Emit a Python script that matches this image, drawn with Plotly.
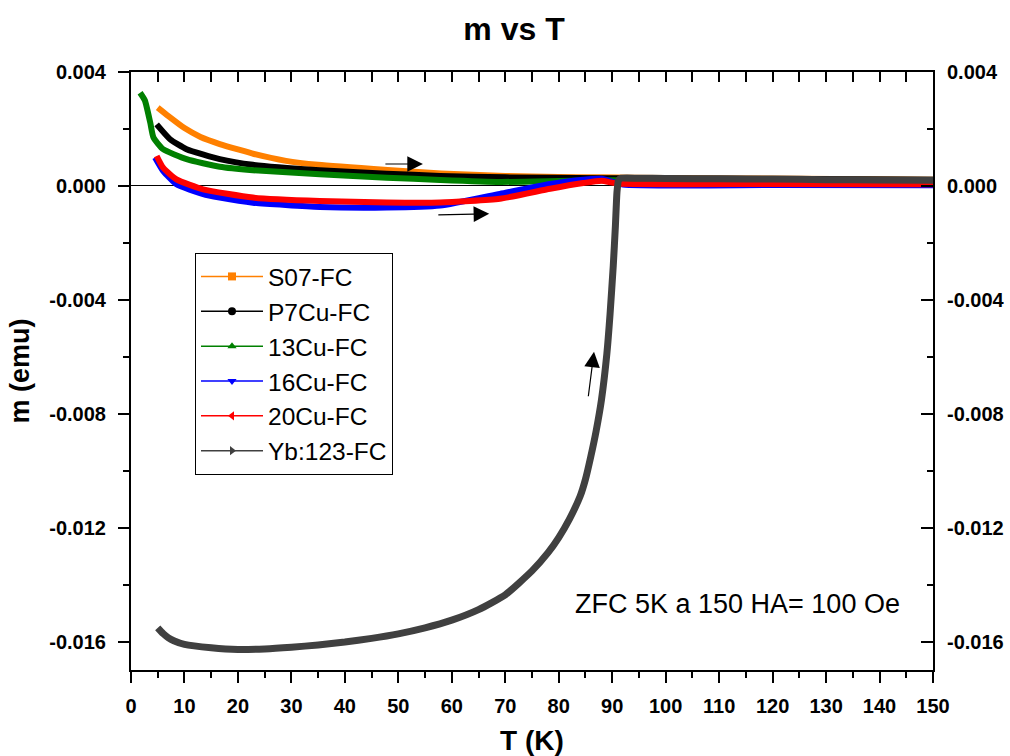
import plotly.graph_objects as go

# ---------------- data ----------------
T_s07 = [5, 7, 10, 13, 16.6, 20, 23, 29, 35, 48, 58, 70, 80, 88, 100, 125, 150]
m_s07 = [0.00275, 0.00245, 0.00203, 0.00172, 0.00147, 0.00128, 0.00112, 0.00088,
         0.00074, 0.00056, 0.00044, 0.00035, 0.00031, 0.00030, 0.00028, 0.00025, 0.00022]

T_p7 = [4.8, 7.3, 10.4, 16.6, 22.8, 35.3, 47.8, 57.8, 70, 88, 100, 125, 150]
m_p7 = [0.00216, 0.00164, 0.00129, 0.00094, 0.00074, 0.00055, 0.00043, 0.00035,
        0.00030, 0.00027, 0.00026, 0.00024, 0.00022]

T_13 = [1.7, 2.6, 3.6, 4.2, 6.0, 10.4, 16.6, 22.8, 35.3, 47.8, 57.8, 69, 80, 90, 120, 150]
m_13 = [0.00327, 0.00300, 0.00222, 0.00170, 0.00129, 0.00094, 0.00067, 0.00055,
        0.00041, 0.00029, 0.00021, 0.00014, 0.00017, 0.00020, 0.00019, 0.00018]

T_16 = [4.5, 6.0, 8.5, 13.5, 16.6, 22.8, 35.3, 47.8, 57.8, 69, 78.4, 84.6, 88, 92, 120, 150]
m_16 = [0.00100, 0.00053, 0.00006, -0.00029, -0.00041, -0.00059, -0.00074, -0.00076,
        -0.00069, -0.00028, 0.00007, 0.00022, 0.00025, 0.00005, 0.00003, 0.00002]

T_20 = [4.8, 6.0, 8.5, 13.5, 22.8, 35.3, 47.8, 57.8, 69, 78.4, 84.6, 88, 91, 120, 150]
m_20 = [0.00105, 0.00064, 0.00023, -0.00012, -0.00041, -0.00053, -0.00058, -0.00058,
        -0.00045, -0.00010, 0.00010, 0.00018, 0.00008, 0.00007, 0.00006]

T_yb = [5, 6, 7, 8, 10, 15, 20, 25, 30, 35, 40, 45, 50, 55, 60, 65, 70, 75,
        78, 80, 82, 84, 85, 86, 87, 88, 89, 89.6, 90.2, 90.6, 90.9, 91.2, 91.6,
        95, 100, 110, 120, 130, 140, 150]
m_yb = [-0.01552, -0.01572, -0.01587, -0.01597, -0.0161, -0.01622, -0.01628, -0.01626,
        -0.0162, -0.01612, -0.01602, -0.01589, -0.01573, -0.01552, -0.01525, -0.01488,
        -0.01436, -0.01352, -0.01288, -0.01235, -0.0117, -0.0109,
        -0.0103, -0.0095, -0.0086, -0.0075, -0.0059, -0.0045, -0.0028, -0.0014, -0.0002,
        0.0002, 0.00027, 0.00027, 0.00026, 0.00025, 0.00024, 0.00022, 0.00021, 0.0002]

names = ["S07-FC", "P7Cu-FC", "13Cu-FC", "16Cu-FC", "20Cu-FC", "Yb:123-FC"]
colors = ["#FF8000", "#000000", "#008000", "#0000FF", "#FF0000", "#404040"]
symbols = ["square", "circle", "triangle-up", "triangle-down", "triangle-left", "triangle-right"]
xs = [T_s07, T_p7, T_13, T_16, T_20, T_yb]
ys = [m_s07, m_p7, m_13, m_16, m_20, m_yb]
widths = [6, 6, 6, 6, 6, 7]

y_ticks = [0.004, 0.0, -0.004, -0.008, -0.012, -0.016]
y_ticktext = ["0.004", "0.000", "-0.004", "-0.008", "-0.012", "-0.016"]
y_minor = [0.002, -0.002, -0.006, -0.010, -0.014]
x_ticks = list(range(0, 151, 10))

FONT = "Arial, Liberation Sans, sans-serif"
W, H = 1010, 756

fig = go.Figure()
for name, c, s, x, y, w in zip(names, colors, symbols, xs, ys, widths):
    fig.add_trace(go.Scatter(x=x, y=y, mode="lines",
                             line=dict(color=c, width=w, shape="spline", smoothing=0.5),
                             showlegend=False, hoverinfo="skip"))
for i, (name, c, s) in enumerate(zip(names, colors, symbols)):
    fig.add_trace(go.Scatter(x=[None], y=[None], mode="lines+markers", name=name,
                             legendgroup=f"g{i}",
                             line=dict(color=c, width=1.5),
                             marker=dict(symbol=s, size=8, color=c)))
# invisible trace so the mirrored top/right axes are drawn
fig.add_trace(go.Scatter(x=[None], y=[None], xaxis="x2", yaxis="y2", showlegend=False,
                         hoverinfo="skip", mode="lines"))

axis_common = dict(showline=True, linecolor="black", linewidth=2, showgrid=False,
                   tickcolor="black", tickwidth=2, automargin=False,
                   tickfont=dict(family=FONT, size=20, color="black", weight="bold"))

fig.update_layout(
    width=W, height=H,
    margin=dict(l=131, r=77, t=72, b=86),
    plot_bgcolor="white", paper_bgcolor="white",
    title=dict(text="<b>m vs T</b>", x=514 / W, xref="container", xanchor="center",
               y=1 - 29 / H, yref="container", yanchor="middle", automargin=False,
               font=dict(family=FONT, size=32, color="black")),
    xaxis=dict(range=[0, 150], tickmode="array", tickvals=x_ticks, ticks="outside", ticklen=11,
               minor=dict(tickmode="linear", tick0=0, dtick=5, ticks="outside", ticklen=6,
                          tickwidth=2, tickcolor="black"),
               ticklabelstandoff=6, zeroline=False,
               title=dict(text="<b>T (K)</b>", font=dict(family=FONT, size=28, color="black"), standoff=14),
               **axis_common),
    yaxis=dict(range=[-0.017, 0.004], tickmode="array", tickvals=y_ticks, ticktext=y_ticktext,
               ticks="outside", ticklen=11,
               minor=dict(tickmode="array", tickvals=y_minor, ticks="outside", ticklen=6,
                          tickwidth=2, tickcolor="black"),
               ticklabelstandoff=8,
               zeroline=True, zerolinecolor="black", zerolinewidth=1,
               title=dict(text="<b>m (emu)</b>", font=dict(family=FONT, size=27, color="black"), standoff=12),
               **axis_common),
    xaxis2=dict(overlaying="x", side="top", range=[0, 150], tickmode="array", tickvals=x_ticks,
                ticks="inside", ticklen=10, showticklabels=False, zeroline=False,
                minor=dict(tickmode="linear", tick0=0, dtick=5, ticks="inside", ticklen=10,
                           tickwidth=2, tickcolor="black"),
                anchor="y2", **axis_common),
    yaxis2=dict(overlaying="y", side="right", range=[-0.017, 0.004], tickmode="array",
                tickvals=y_ticks, ticktext=y_ticktext, ticks="inside", ticklen=12,
                minor=dict(tickmode="array", tickvals=y_minor, ticks="inside", ticklen=6,
                           tickwidth=2, tickcolor="black"),
                ticklabelstandoff=8, zeroline=False, anchor="x2", **axis_common),
    legend=dict(x=(195 - 131) / 802, y=(670 - 253) / 598, xanchor="left", yanchor="top",
                bordercolor="black", borderwidth=1, bgcolor="white",
                font=dict(family=FONT, size=24.5, color="black"),
                tracegroupgap=0, itemwidth=62, traceorder="normal"),
    showlegend=True,
)

# arrows
arrows = [((54.6, 0.00077), (47.3, 0.00077)),
          ((67.0, -0.00098), (57.2, -0.00102)),
          ((86.6, -0.00582), (85.5, -0.00744))]
for (hx, hy), (tx, ty) in arrows:
    fig.add_annotation(x=hx, y=hy, ax=tx, ay=ty, xref="x", yref="y", axref="x", ayref="y",
                       text="", showarrow=True, arrowhead=2, arrowsize=2.6, arrowwidth=1.2,
                       arrowcolor="black")

fig.add_annotation(x=113.5, y=-0.01467, xref="x", yref="y", text="ZFC 5K a 150 HA= 100 Oe",
                   showarrow=False, font=dict(family=FONT, size=27, color="black"))

# remove the browser's default 8px body margin so the figure fills the window exactly
fig.write_html("out.html",
               config={"displayModeBar": False},
               post_script="document.body.style.margin='0px';"
                           "document.documentElement.style.overflow='hidden';")
